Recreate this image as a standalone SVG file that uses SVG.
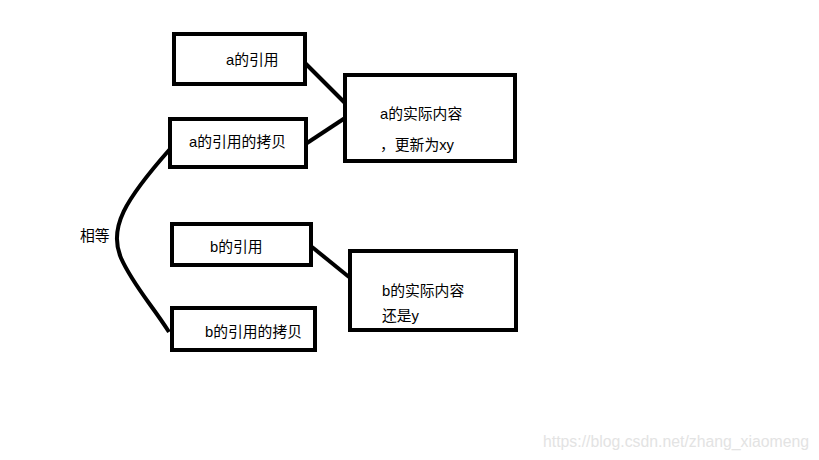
<svg xmlns="http://www.w3.org/2000/svg" width="819" height="460" viewBox="0 0 819 460">
<style>
.box{fill:#fff;stroke:#000;stroke-width:4}
.t{font-family:"Liberation Sans","Noto Sans CJK SC",sans-serif;font-size:14.8px;fill:#000}
.c{fill:none;stroke:#000;stroke-width:4}
.wm{font-family:"Liberation Sans",Arial,sans-serif;font-size:15.8px;fill:#e3e3e3}
</style>
<rect width="819" height="460" fill="#fff"/>
<g id="connectors">
<line class="c" x1="305" y1="63" x2="345" y2="103"/>
<line class="c" x1="304" y1="145" x2="345" y2="118"/>
<line class="c" x1="312" y1="247" x2="349" y2="277"/>
<path class="c" d="M170,149 C125,200 108,228 121,258 C133,285 152,305 169,332"/>
</g>
<g id="a_ref"><rect class="box" x="174" y="34" width="131" height="50"/><text class="t" x="226" y="65">a的引用</text></g>
<g id="a_ref_copy"><rect class="box" x="170" y="119" width="136" height="48"/><text class="t" x="189" y="147">a的引用的拷贝</text></g>
<g id="a_content"><rect class="box" x="345" y="75" width="170" height="86"/><text class="t" x="380" y="119">a的实际内容</text><text class="t" x="380" y="150">，更新为xy</text></g>
<g id="b_ref"><rect class="box" x="172" y="224" width="139" height="41"/><text class="t" x="210" y="252">b的引用</text></g>
<g id="b_ref_copy"><rect class="box" x="172" y="308" width="143" height="42"/><text class="t" x="205" y="337">b的引用的拷贝</text></g>
<g id="b_content"><rect class="box" x="350" y="251" width="166" height="79"/><text class="t" x="382" y="296">b的实际内容</text><text class="t" x="382" y="321">还是y</text></g>
<g id="equal_label"><text class="t" x="80" y="241">相等</text></g>
<text class="wm" x="543" y="447">https://blog.csdn.net/zhang_xiaomeng</text>
</svg>
